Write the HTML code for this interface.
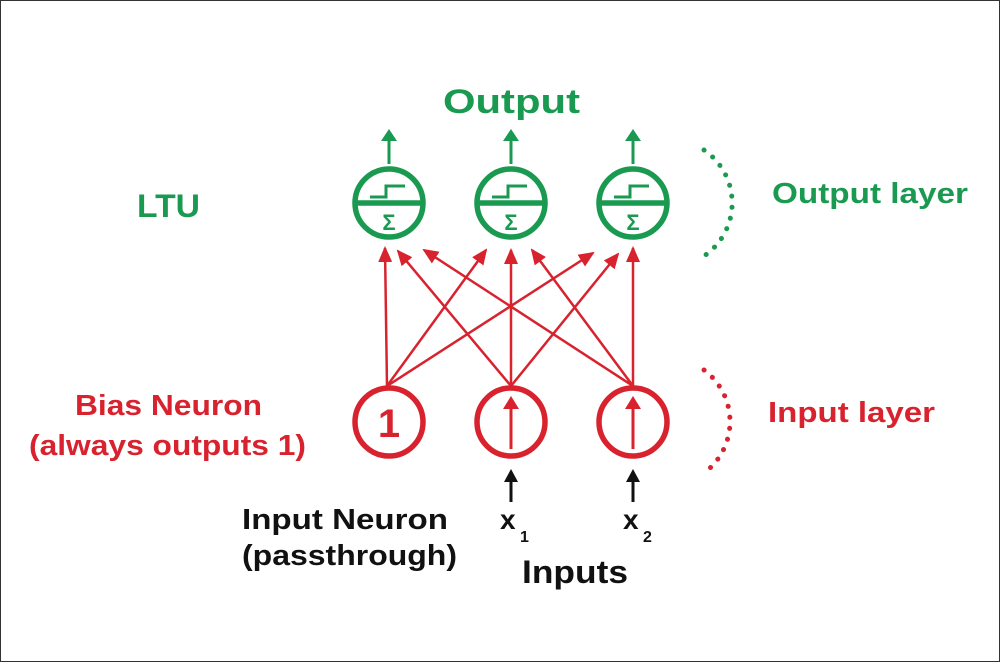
<!DOCTYPE html>
<html><head><meta charset="utf-8"><style>
html,body{margin:0;padding:0;background:#fff}
svg{display:block}
text{font-family:"Liberation Sans",sans-serif;font-weight:bold}
</style></head><body>
<svg width="1000" height="662" viewBox="0 0 1000 662" xmlns="http://www.w3.org/2000/svg">
<defs>
<marker id="ar" markerWidth="6" markerHeight="6" refX="5" refY="3" orient="auto" markerUnits="userSpaceOnUse" viewBox="0 0 6 6" >
<path d="M0,0 L6,3 L0,6 Z" fill="#d8232f"/></marker>
<marker id="ar2" markerWidth="16" markerHeight="14" refX="14" refY="7" orient="auto" markerUnits="userSpaceOnUse">
<path d="M0,0 L16,7 L0,14 Z" fill="#d8232f"/></marker>
</defs>
<rect x="0.5" y="0.5" width="999" height="661" fill="#fff" stroke="#333" stroke-width="1"/>

<g fill="#1a9a50">
<text x="443" y="113" font-size="34" textLength="137" lengthAdjust="spacingAndGlyphs">Output</text>
<text x="137" y="217" font-size="32" textLength="63" lengthAdjust="spacingAndGlyphs">LTU</text>
<text x="772" y="203" font-size="29" textLength="196" lengthAdjust="spacingAndGlyphs">Output layer</text>
</g>
<g fill="#d8232f">
<text x="768" y="422" font-size="29" textLength="167" lengthAdjust="spacingAndGlyphs">Input layer</text>
<text x="75" y="415" font-size="29" textLength="187" lengthAdjust="spacingAndGlyphs">Bias Neuron</text>
<text x="29" y="455" font-size="29" textLength="277" lengthAdjust="spacingAndGlyphs">(always outputs 1)</text>
</g>
<g fill="#111">
<text x="242" y="529" font-size="29" textLength="206" lengthAdjust="spacingAndGlyphs">Input Neuron</text>
<text x="242" y="565" font-size="29" textLength="215" lengthAdjust="spacingAndGlyphs">(passthrough)</text>
<text x="522" y="583" font-size="32" textLength="106" lengthAdjust="spacingAndGlyphs">Inputs</text>
<text x="500" y="529" font-size="28">x</text><text x="520" y="542" font-size="16">1</text>
<text x="623" y="529" font-size="28">x</text><text x="643" y="542" font-size="16">2</text>
</g>

<path d="M704,150 A64,64 0 0 1 704,256" fill="none" stroke="#1a9a50" stroke-width="5" stroke-linecap="round" stroke-dasharray="0.1 11"/>
<path d="M704,370 A64,64 0 0 1 704,473" fill="none" stroke="#d8232f" stroke-width="5" stroke-linecap="round" stroke-dasharray="0.1 11"/>

<g stroke="#1a9a50" stroke-width="5.5" fill="none">
<circle cx="389" cy="203" r="34"/>
<circle cx="511" cy="203" r="34"/>
<circle cx="633" cy="203" r="34"/>
<line x1="356" y1="203" x2="422" y2="203"/>
<line x1="478" y1="203" x2="544" y2="203"/>
<line x1="600" y1="203" x2="666" y2="203"/>
</g>
<g stroke="#1a9a50" stroke-width="3" fill="none">
<path d="M370,197 H386 V186 H405"/>
<path d="M492,197 H508 V186 H527"/>
<path d="M614,197 H630 V186 H649"/>
<line x1="389" y1="164" x2="389" y2="138"/>
<line x1="511" y1="164" x2="511" y2="138"/>
<line x1="633" y1="164" x2="633" y2="138"/>
</g>
<g fill="#1a9a50">
<path d="M381,141 L389,129 L397,141 Z"/>
<path d="M503,141 L511,129 L519,141 Z"/>
<path d="M625,141 L633,129 L641,141 Z"/>
<text x="389" y="230" font-size="22" text-anchor="middle" font-weight="normal">Σ</text>
<text x="511" y="230" font-size="22" text-anchor="middle" font-weight="normal">Σ</text>
<text x="633" y="230" font-size="22" text-anchor="middle" font-weight="normal">Σ</text>
</g>

<g stroke="#d8232f" stroke-width="2.5" marker-end="url(#ar2)">
<line x1="387" y1="386" x2="385" y2="248"/>
<line x1="387" y1="386" x2="486" y2="250"/>
<line x1="387" y1="386" x2="593" y2="253"/>
<line x1="511" y1="386" x2="398" y2="251"/>
<line x1="511" y1="386" x2="511" y2="250"/>
<line x1="511" y1="386" x2="618" y2="254"/>
<line x1="633" y1="386" x2="424" y2="250"/>
<line x1="633" y1="386" x2="532" y2="250"/>
<line x1="633" y1="386" x2="633" y2="248"/>
</g>

<g stroke="#d8232f" stroke-width="5.5" fill="none">
<circle cx="389" cy="422" r="34"/>
<circle cx="511" cy="422" r="34"/>
<circle cx="633" cy="422" r="34"/>
</g>
<g stroke="#d8232f" stroke-width="3">
<line x1="511" y1="449" x2="511" y2="405"/>
<line x1="633" y1="449" x2="633" y2="405"/>
</g>
<g fill="#d8232f">
<path d="M503,409 L511,396 L519,409 Z"/>
<path d="M625,409 L633,396 L641,409 Z"/>
<text x="389" y="437" font-size="40" text-anchor="middle">1</text>
</g>

<g stroke="#111" stroke-width="3">
<line x1="511" y1="502" x2="511" y2="478"/>
<line x1="633" y1="502" x2="633" y2="478"/>
</g>
<g fill="#111">
<path d="M504,482 L511,469 L518,482 Z"/>
<path d="M626,482 L633,469 L640,482 Z"/>
</g>
</svg>
</body></html>
